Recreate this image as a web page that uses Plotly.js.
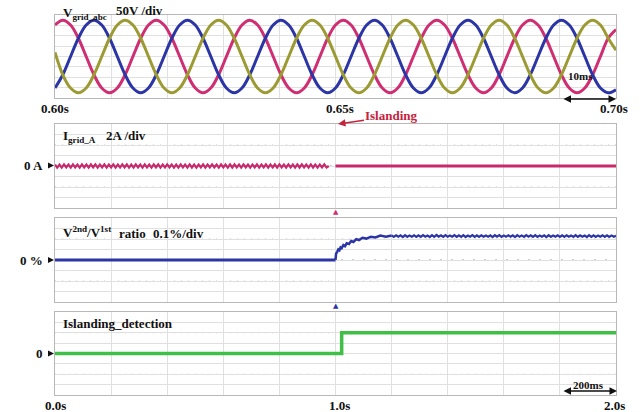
<!DOCTYPE html>
<html><head><meta charset="utf-8">
<script src="https://cdn.plot.ly/plotly-3.0.1.min.js"></script>
<style>html,body{margin:0;padding:0;background:#fff}#chart{width:642px;height:412px}</style>
</head><body><div id="chart"></div>
<script>
// ---- data ----
// Top panel: three-phase grid voltage, 0.60 s .. 0.70 s, sampled every 30 deg (60 Hz)
const vT0 = 0.6, vDt = 0.1 / 72;
const vPhaseA = [152,175,152,88,0,-88,-152,-175,-152,-88,0,88,
                 152,175,152,88,0,-88,-152,-175,-152,-88,0,88,
                 152,175,152,88,0,-88,-152,-175,-152,-88,0,88,
                 152,175,152,88,0,-88,-152,-175,-152,-88,0,88,
                 152,175,152,88,0,-88,-152,-175,-152,-88,0,88,
                 152,175,152,88,0,-88,-152,-175,-152,-88,0,88,130];
const vPhaseB = [-152,-88,0,88,152,175,152,88,0,-88,-152,-175,
                 -152,-88,0,88,152,175,152,88,0,-88,-152,-175,
                 -152,-88,0,88,152,175,152,88,0,-88,-152,-175,
                 -152,-88,0,88,152,175,152,88,0,-88,-152,-175,
                 -152,-88,0,88,152,175,152,88,0,-88,-152,-175,
                 -152,-88,0,88,152,175,152,88,0,-88,-152,-175,-160];
const vPhaseC = [20,-88,-152,-175,-152,-88,0,88,152,175,152,88,
                 0,-88,-152,-175,-152,-88,0,88,152,175,152,88,
                 0,-88,-152,-175,-152,-88,0,88,152,175,152,88,
                 0,-88,-152,-175,-152,-88,0,88,152,175,152,88,
                 0,-88,-152,-175,-152,-88,0,88,152,175,152,88,
                 0,-88,-152,-175,-152,-88,0,88,152,175,152,88,30];

// Panel 2: grid current (A), before islanding (0..1 s) small ripple, after ~0
const iPreT0 = 0, iPreDt = 0.008;
const iGridPre = [0.28,-0.30,0.26,-0.31,0.30,-0.27,0.29,-0.30,0.31,-0.26,0.27,-0.30,0.30,-0.29,0.26,-0.31,
  0.29,-0.28,0.31,-0.30,0.27,-0.29,0.30,-0.31,0.28,-0.27,0.30,-0.30,0.26,-0.29,0.31,-0.28,
  0.29,-0.31,0.27,-0.30,0.30,-0.26,0.28,-0.30,0.31,-0.29,0.27,-0.31,0.29,-0.28,0.30,-0.30,
  0.26,-0.29,0.31,-0.27,0.29,-0.30,0.28,-0.31,0.30,-0.27,0.27,-0.30,0.31,-0.29,0.28,-0.30,
  0.29,-0.26,0.30,-0.31,0.27,-0.29,0.31,-0.28,0.28,-0.30,0.30,-0.27,0.26,-0.31,0.29,-0.29,
  0.31,-0.28,0.27,-0.30,0.30,-0.29,0.28,-0.31,0.29,-0.27,0.31,-0.30,0.27,-0.28,0.30,-0.31,
  0.28,-0.29,0.29,-0.30,0.31,-0.27,0.27,-0.30,0.30,-0.28,0.28,-0.31,0.29,-0.29,0.30,-0.27,
  0.26,-0.30,0.31,-0.29,0.28,-0.30,0.29,-0.28,0.30,-0.29,0.0];
const iPostT = [1.0, 2.0];
const iGridPost = [0.0, 0.0];

// Panel 3: V2nd/V1st ratio (%)
const rPreT = [0, 1.0];
const rPre = [0, 0];
const rRiseT = [1.0,1.002,1.006,1.010,1.014,1.018,1.022,1.028,1.034,1.040,1.048,1.056,1.064,1.074,1.084,1.096,1.110,1.126,1.142,1.160,1.180,1.200];
const rRise  = [0.0,0.060,0.078,0.100,0.092,0.120,0.112,0.142,0.132,0.160,0.152,0.180,0.172,0.198,0.190,0.212,0.204,0.222,0.214,0.232,0.222,0.234];
const rPlatT0 = 1.2, rPlatDt = 0.008;
const rPlat = [0.234,0.220,0.236,0.222,0.235,0.219,0.237,0.221,0.234,0.222,0.236,0.220,0.235,0.221,0.237,0.222,
  0.234,0.219,0.236,0.221,0.238,0.222,0.235,0.220,0.236,0.221,0.234,0.222,0.237,0.220,0.235,0.221,
  0.236,0.219,0.234,0.222,0.237,0.221,0.235,0.220,0.236,0.222,0.234,0.221,0.235,0.219,0.236,0.222,
  0.237,0.220,0.234,0.221,0.236,0.222,0.235,0.219,0.236,0.221,0.234,0.220,0.237,0.222,0.235,0.221,
  0.236,0.220,0.234,0.222,0.235,0.219,0.237,0.221,0.234,0.222,0.236,0.220,0.235,0.221,0.236,0.222,
  0.234,0.220,0.236,0.221,0.235,0.222,0.234,0.219,0.236,0.221,0.235,0.220,0.234,0.222,0.236,0.221,
  0.235,0.220,0.234,0.221,0.230];

// Panel 4: islanding detection flag
const dT = [0, 1.022, 1.022, 2.0];
const dFlag = [0, 0, 1, 1];

// ---- labels ----
const topTicks = ['0.60s','0.65s','0.70s'];
const botTicks = ['0.0s','1.0s','2.0s'];

// ---- layout helpers ----
const W = 642, H = 412;
const px = x => x / W, py = y => 1 - y / H;
const XL = 55, XR = 616;
const panels = [[15,98],[124,208],[218,302],[312,395]];
const serif = 'Liberation Serif, Times New Roman, serif';

const cPink = '#cf2f72', cBlue = '#2b35a6', cOlive = '#9c9b33', cGreen = '#3fbf45', cCur = '#c72a6c';

const traces = [
  {y: vPhaseA, x0: vT0, dx: vDt, type:'scatter', mode:'lines', line:{color:cPink, width:3, shape:'spline'}, xaxis:'x', yaxis:'y'},
  {y: vPhaseB, x0: vT0, dx: vDt, type:'scatter', mode:'lines', line:{color:cBlue, width:3, shape:'spline'}, xaxis:'x', yaxis:'y'},
  {y: vPhaseC, x0: vT0, dx: vDt, type:'scatter', mode:'lines', line:{color:cOlive, width:3, shape:'spline'}, xaxis:'x', yaxis:'y'},
  {y: iGridPre, x0: iPreT0, dx: iPreDt, type:'scatter', mode:'lines', line:{color:cCur, width:2.2}, xaxis:'x2', yaxis:'y2'},
  {x: iPostT, y: iGridPost, type:'scatter', mode:'lines', line:{color:cCur, width:3}, xaxis:'x2', yaxis:'y2'},
  {x: rPreT, y: rPre, type:'scatter', mode:'lines', line:{color:cBlue, width:3}, xaxis:'x3', yaxis:'y3'},
  {x: rRiseT, y: rRise, type:'scatter', mode:'lines', line:{color:cBlue, width:2.5}, xaxis:'x3', yaxis:'y3'},
  {y: rPlat, x0: rPlatT0, dx: rPlatDt, type:'scatter', mode:'lines', line:{color:cBlue, width:2.2}, xaxis:'x3', yaxis:'y3'},
  {x: dT, y: dFlag, type:'scatter', mode:'lines', line:{color:cGreen, width:3.5}, xaxis:'x4', yaxis:'y4'}
];

const gridC = '#e0e0e0', borderC = '#b8b8b8';
function xax(range, dtick, anchor){
  return {domain:[px(XL), px(XR)], range, dtick, tick0: range[0], anchor, showgrid:true, gridcolor:gridC, gridwidth:1,
          showline:true, mirror:true, linecolor:borderC, linewidth:1, zeroline:false, showticklabels:false, ticks:'', fixedrange:true};
}
function yax(p, range, dtick, anchor){
  return {domain:[py(panels[p][1]), py(panels[p][0])], range, dtick, tick0: range[0], anchor, showgrid:true, gridcolor:gridC, gridwidth:1,
          showline:true, mirror:true, linecolor:borderC, linewidth:1, zeroline:false, showticklabels:false, ticks:'', fixedrange:true};
}

const shapes = [];
// dotted lines at +/-2 div and dotted centre line in each lower panel
[['x2','y2',2],['x3','y3',0.1],['x4','y4',0.5]].forEach(([xa,ya,d])=>{
  [-2*d, 2*d].forEach(v=>shapes.push({type:'line', xref:xa+' domain', yref:ya, x0:0, x1:1, y0:v, y1:v, line:{color:'#bfbfbf', width:1, dash:'1px,6px'}, layer:'below'}));
  shapes.push({type:'line', xref:xa+' domain', yref:ya, x0:0, x1:1, y0:0, y1:0, line:{color:'#9a9a9a', width:1, dash:'2px,9px'}, layer:'below'});
  shapes.push({type:'line', xref:xa, yref:ya+' domain', x0:1.0, x1:1.0, y0:0, y1:1, line:{color:'#a8a8a8', width:1}, layer:'below'});
});
shapes.push({type:'line', xref:'x domain', yref:'y', x0:0, x1:1, y0:0, y1:0, line:{color:'#bdbdbd', width:1, dash:'2px,5px'}, layer:'below'});
// zero-level markers
[165.5, 260, 353.5].forEach(yc=>{
  shapes.push({type:'path', xref:'paper', yref:'paper', path:`M ${px(48)} ${py(yc-3)} L ${px(54)} ${py(yc)} L ${px(48)} ${py(yc+3)} Z`, fillcolor:'#111', line:{width:0}});
});

const txt = (x,y,text,opt={}) => Object.assign({xref:'paper', yref:'paper', x:px(x), y:py(y), text, showarrow:false,
  xanchor:'left', yanchor:'middle', font:{family:serif, size:13, color:'#111'}}, opt);

const annotations = [
  txt(61, 14, '<b>V<sub>grid_abc</sub></b>', {font:{family:serif,size:13,color:'#111'}}),
  txt(114, 11, '<b>50V /div</b>'),
  txt(61, 137, '<b>I<sub>grid_A</sub></b>'),
  txt(104, 135, '<b>2A /div</b>'),
  txt(61, 232, '<b>V<sup>2nd</sup>/V<sup>1st</sup></b>'),
  txt(117, 233, '<b>ratio</b>'),
  txt(151, 233, '<b>0.1%/div</b>'),
  txt(61, 323, '<b>Islanding_detection</b>'),
  txt(45, 165.5, '<b>0 A</b>', {xanchor:'right'}),
  txt(45, 260, '<b>0 %</b>', {xanchor:'right'}),
  txt(45, 353.5, '<b>0</b>', {xanchor:'right'}),
  txt(XL, 108, '<b>'+topTicks[0]+'</b>', {xanchor:'center'}),
  txt(340, 108, '<b>'+topTicks[1]+'</b>', {xanchor:'center'}),
  txt(614, 108, '<b>'+topTicks[2]+'</b>', {xanchor:'center'}),
  txt(XL, 405, '<b>'+botTicks[0]+'</b>', {xanchor:'center'}),
  txt(340, 405, '<b>'+botTicks[1]+'</b>', {xanchor:'center'}),
  txt(614, 405, '<b>'+botTicks[2]+'</b>', {xanchor:'center'}),
  txt(580, 76, '<b>10ms</b>', {xanchor:'center', font:{family:serif,size:11,color:'#111'}}),
  txt(588, 385, '<b>200ms</b>', {xanchor:'center', font:{family:serif,size:11,color:'#111'}}),
  // scale arrows
  {xref:'paper', yref:'paper', x:px(616), y:py(99), ax:-54, ay:0, text:'', showarrow:true, arrowside:'end+start', arrowhead:2, arrowsize:1, arrowwidth:1.5, arrowcolor:'#111'},
  {xref:'paper', yref:'paper', x:px(617), y:py(391), ax:-55, ay:0, text:'', showarrow:true, arrowside:'end+start', arrowhead:2, arrowsize:1, arrowwidth:1.5, arrowcolor:'#111'},
  // islanding marker
  {xref:'paper', yref:'paper', x:px(338), y:py(124), ax:54, ay:-8, text:'<b>Islanding</b>', showarrow:true, arrowhead:2, arrowsize:1, arrowwidth:1.5, arrowcolor:'#c4233d',
   font:{family:serif, size:13, color:'#c4233d'}},
  // trigger markers
  txt(335.5, 212, '▲', {xanchor:'center', font:{family:'DejaVu Sans', size:7, color:cPink}}),
  txt(335.5, 306, '▲', {xanchor:'center', font:{family:'DejaVu Sans', size:7, color:cBlue}})
];

const layout = {
  width:W, height:H, margin:{l:0,r:0,t:0,b:0}, paper_bgcolor:'#fff', plot_bgcolor:'#fff', showlegend:false,
  xaxis: xax([0.6,0.7], 0.01, 'y'),
  xaxis2: xax([0,2], 0.2, 'y2'),
  xaxis3: xax([0,2], 0.2, 'y3'),
  xaxis4: xax([0,2], 0.2, 'y4'),
  yaxis: yax(0, [-200,200], 50, 'x'),
  yaxis2: yax(1, [-8,8], 2, 'x2'),
  yaxis3: yax(2, [-0.4,0.4], 0.1, 'x3'),
  yaxis4: yax(3, [-2,2], 0.5, 'x4'),
  shapes, annotations
};
Plotly.newPlot('chart', traces, layout, {staticPlot:true, displayModeBar:false});
</script></body></html>
